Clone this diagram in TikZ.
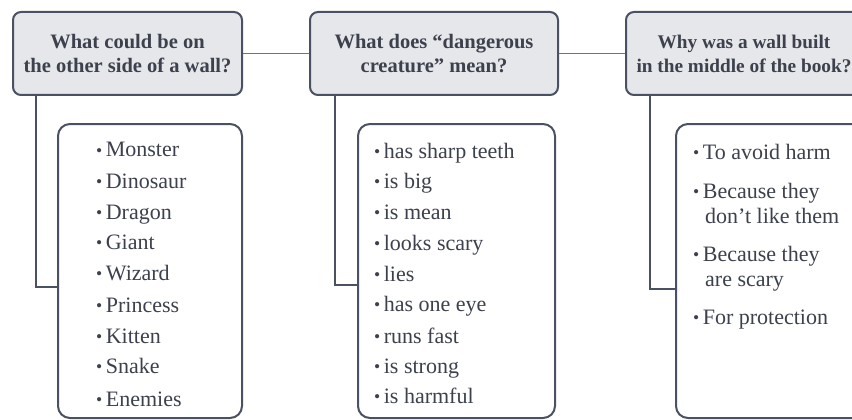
\documentclass[tikz,border=0pt]{standalone}
\usepackage{fontspec}
\setmainfont{Liberation Serif}
\definecolor{boxfill}{HTML}{E6E7EA}
\definecolor{boxline}{HTML}{4A5163}
\definecolor{txt}{HTML}{3C414D}
\definecolor{hcon}{HTML}{6E737C}
\tikzset{
  head/.style={draw=boxline, line width=2pt, fill=boxfill, rounded corners=8pt,
    text=txt, font=\fontsize{20.5}{24}\selectfont\bfseries, align=center, inner sep=0pt},
  listbox/.style={draw=boxline, line width=2pt, fill=white, rounded corners=12pt, inner sep=0pt},
  itm/.style={anchor=base west, text=txt, font=\fontsize{22}{25}\selectfont, inner sep=0pt},
  hconn/.style={draw=hcon, line width=1.5pt},
  vconn/.style={draw=boxline, line width=2.5pt}
}
\newcommand{\bul}{\raisebox{1pt}{\scalebox{0.8}{\textbullet}}\hspace{3.5pt}}
\begin{document}
\begin{tikzpicture}[x=1pt,y=-1pt]
\useasboundingbox (0,0) rectangle (852,420);
\clip (0,0) rectangle (852,420);
\fill[white] (0,0) rectangle (852,420);
% headers
\node[head, minimum width=229pt, minimum height=83pt] (h1) at (127.5,53.5) {What could be on\\the other side of a wall?};
\node[head, minimum width=248pt, minimum height=83pt] (h2) at (434,53.5) {What does “dangerous\\creature” mean?};
\node[head, minimum width=236pt, minimum height=83pt, font=\fontsize{19.3}{24}\selectfont\bfseries] (h3) at (744,53.5) {Why was a wall built\\in the middle of the book?};
% list boxes
\node[listbox, minimum width=184pt, minimum height=294pt] (l1) at (150,271) {};
\node[listbox, minimum width=197pt, minimum height=294pt] (l2) at (456.5,271) {};
\node[listbox, minimum width=194pt, minimum height=294pt] (l3) at (773,271) {};
% connectors
\draw[hconn] (h1.east) -- (h2.west);
\draw[hconn] (h2.east) -- (h3.west);
\coordinate (t1) at (h1.south -| 36,0);
\coordinate (t2) at (h2.south -| 335,0);
\coordinate (t3) at (h3.south -| 650,0);
\draw[vconn] (t1) |- ([yshift=-16pt]l1.west);
\draw[vconn] (t2) |- ([yshift=-14pt]l2.west);
\draw[vconn] (t3) |- ([yshift=-18pt]l3.west);
% list 1
\node[itm] (a1) at (96,157) {\bul Monster};
\node[itm] (a2) at (96,188) {\bul Dinosaur};
\node[itm] (a3) at (96,219) {\bul Dragon};
\node[itm] (a4) at (96,249) {\bul Giant};
\node[itm] (a5) at (96,280) {\bul Wizard};
\node[itm] (a6) at (96,312) {\bul Princess};
\node[itm] (a7) at (96,343) {\bul Kitten};
\node[itm] (a8) at (96,373) {\bul Snake};
\node[itm] (a9) at (96,406) {\bul Enemies};
% list 2
\node[itm] (b1) at (374,158) {\bul has sharp teeth};
\node[itm] (b2) at (374,188) {\bul is big};
\node[itm] (b3) at (374,219) {\bul is mean};
\node[itm] (b4) at (374,250) {\bul looks scary};
\node[itm] (b5) at (374,281) {\bul lies};
\node[itm] (b6) at (374,311) {\bul has one eye};
\node[itm] (b7) at (374,343) {\bul runs fast};
\node[itm] (b8) at (374,373) {\bul is strong};
\node[itm] (b9) at (374,403) {\bul is harmful};
% list 3
\node[itm] (c1) at (693,159) {\bul To avoid harm};
\node[itm] (c2) at (693,198) {\bul Because they};
\node[itm] (c2b) at (705,223) {don’t like them};
\node[itm] (c3) at (693,261) {\bul Because they};
\node[itm] (c3b) at (705,286) {are scary};
\node[itm] (c4) at (693,324) {\bul For protection};
\end{tikzpicture}
\end{document}
